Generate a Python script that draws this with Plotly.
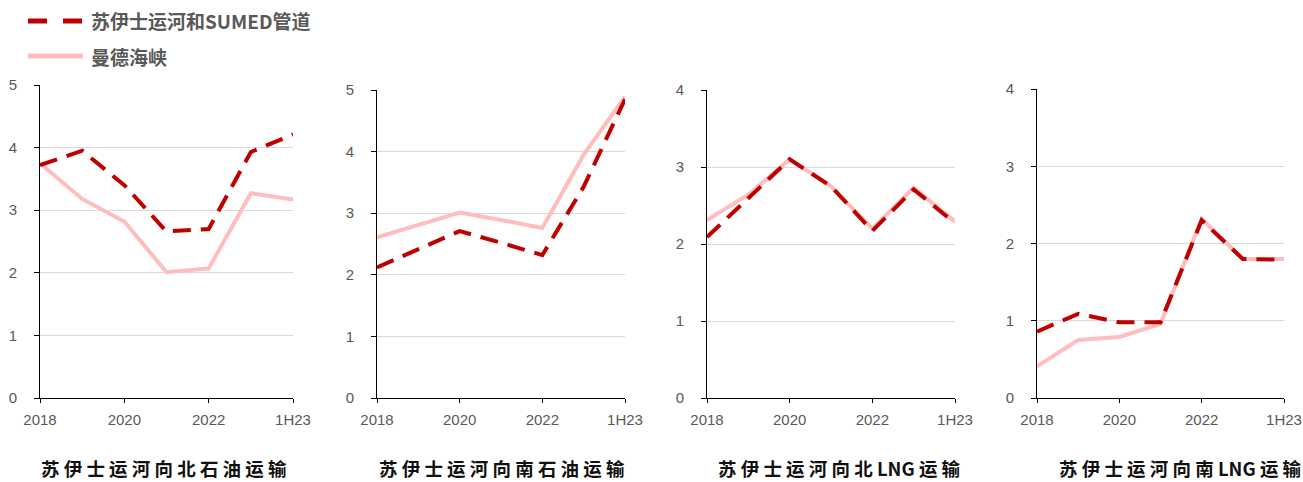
import plotly.graph_objects as go

W, H = 1303, 482

# Categories on the x axis and the labelled subset
categories = ["2018", "2019", "2020", "2021", "2022", "2023", "1H23"]
tick_cats = ["2018", "2020", "2022", "1H23"]
tick_labels = ["2018", "2020", "2022", "1H23"]

# Series names
name_suez = "苏伊士运河和SUMED管道"
name_bab = "曼德海峡"

# Panel titles
titles = ["苏伊士运河向北石油运输", "苏伊士运河向南石油运输",
          "苏伊士运河向北LNG运输", "苏伊士运河向南LNG运输"]

# Panel 1: northbound oil
suez_north_oil = [3.72, 3.95, 3.40, 2.66, 2.70, 3.93, 4.21]
bab_north_oil = [3.75, 3.18, 2.82, 2.01, 2.07, 3.27, 3.17]
# Panel 2: southbound oil
suez_south_oil = [2.12, 2.42, 2.71, 2.52, 2.32, 3.43, 4.85]
bab_south_oil = [2.61, 2.81, 3.01, 2.89, 2.76, 3.95, 4.89]
# Panel 3: northbound LNG
suez_north_lng = [2.09, 2.60, 3.10, 2.75, 2.17, 2.71, 2.27]
bab_north_lng = [2.31, 2.64, 3.10, 2.75, 2.20, 2.73, 2.29]
# Panel 4: southbound LNG
suez_south_lng = [0.86, 1.09, 0.98, 0.98, 2.30, 1.80, 1.79]
bab_south_lng = [0.41, 0.75, 0.79, 0.96, 2.32, 1.80, 1.80]

y_max = [5, 5, 4, 4]

RED = "#C00000"
PINK = "#FFBDBD"
GRAY = "#595959"
GRID = "#D9D9D9"

# Pixel boxes of the four plot areas: (left, right, top, bottom)
boxes = [(40, 293, 85, 398), (377, 625, 90, 398),
         (707, 955, 90, 398), (1037, 1284, 89, 398)]
title_cx = [164, 502, 839, 1180]


def px(x):
    return x / W


def py(y):
    return 1 - y / H


def spaced(text):
    # put a space between CJK characters, keep latin runs together
    out = ""
    for i, ch in enumerate(text):
        out += ch
        if i < len(text) - 1:
            nxt = text[i + 1]
            if not (ch.isascii() and nxt.isascii()):
                out += " "
    return out


fig = go.Figure()
series = [(suez_north_oil, bab_north_oil), (suez_south_oil, bab_south_oil),
          (suez_north_lng, bab_north_lng), (suez_south_lng, bab_south_lng)]

for i, (suez, bab) in enumerate(series):
    xa = "x" if i == 0 else f"x{i + 1}"
    ya = "y" if i == 0 else f"y{i + 1}"
    fig.add_trace(go.Scatter(x=categories, y=bab, mode="lines", name=name_bab,
                             line=dict(color=PINK, width=4), xaxis=xa, yaxis=ya,
                             showlegend=False))
    fig.add_trace(go.Scatter(x=categories, y=suez, mode="lines", name=name_suez,
                             line=dict(color=RED, width=4, dash="18px,10px"),
                             xaxis=xa, yaxis=ya, showlegend=False))

tick_font = dict(family="Liberation Sans, Arial, sans-serif", size=15, color=GRAY)
layout = dict(width=W, height=H,
              margin=dict(l=0, r=0, t=0, b=0, pad=0, autoexpand=False),
              paper_bgcolor="white", plot_bgcolor="white", showlegend=False)

for i, (l, r, t, b) in enumerate(boxes):
    suffix = "" if i == 0 else str(i + 1)
    layout["xaxis" + suffix] = dict(
        domain=[px(l), px(r)], anchor="y" + suffix, type="category",
        categoryorder="array", categoryarray=categories,
        range=[0, len(categories) - 1],
        tickvals=tick_cats, ticktext=tick_labels, tickfont=tick_font,
        showline=True, linecolor="black", linewidth=1,
        ticks="outside", ticklen=4, tickcolor="black", tickwidth=1,
        ticklabelstandoff=4, showgrid=False, zeroline=False, fixedrange=True,
        automargin=False)
    layout["yaxis" + suffix] = dict(
        domain=[py(b), py(t)], anchor="x" + suffix,
        range=[0, y_max[i]], dtick=1, tick0=0, tickfont=tick_font,
        showline=True, linecolor="black", linewidth=1,
        ticks="outside", ticklen=5, tickcolor="black", tickwidth=1,
        ticklabelstandoff=14, showgrid=True, gridcolor=GRID, gridwidth=1,
        zeroline=False, fixedrange=True, automargin=False)

fig.update_layout(**layout)

# Panel titles under each chart
for cx, title in zip(title_cx, titles):
    fig.add_annotation(x=px(cx), y=py(468), xref="paper", yref="paper",
                       text="<b>" + spaced(title) + "</b>", showarrow=False,
                       xanchor="center", yanchor="middle",
                       font=dict(family="Noto Sans CJK SC", size=18.5, color="#111111"))

# Legend in the top-left corner
fig.add_shape(type="line", xref="paper", yref="paper",
              x0=px(28), x1=px(83), y0=py(21), y1=py(21),
              line=dict(color=RED, width=5, dash="19px,16px"))
fig.add_shape(type="line", xref="paper", yref="paper",
              x0=px(28), x1=px(83), y0=py(56), y1=py(56),
              line=dict(color=PINK, width=5))
for yy, txt in [(21, name_suez), (56, name_bab)]:
    fig.add_annotation(x=px(89), y=py(yy), xref="paper", yref="paper",
                       text="<b>" + txt + "</b>", showarrow=False,
                       xanchor="left", yanchor="middle",
                       font=dict(family="Noto Sans CJK SC", size=19, color=GRAY))

fig.write_html("out.html")
